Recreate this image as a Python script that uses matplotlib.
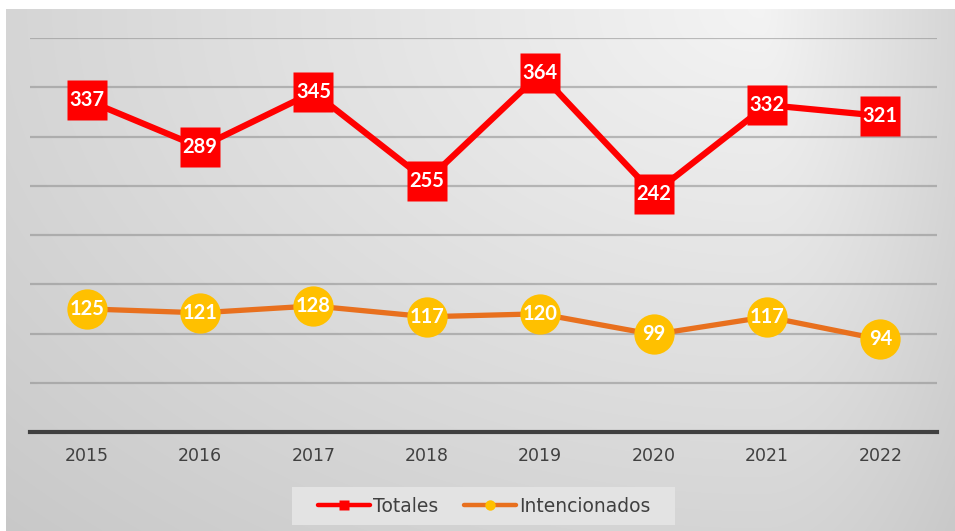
import matplotlib.pyplot as plt
from matplotlib.lines import Line2D
from matplotlib.patches import Rectangle
import numpy as np

plt.rcParams['font.family'] = ['DejaVu Sans']

years = ['2015', '2016', '2017', '2018', '2019', '2020', '2021', '2022']
totales = [337, 289, 345, 255, 364, 242, 332, 321]
intencionados = [125, 121, 128, 117, 120, 99, 117, 94]

W, H = 955, 531
fig = plt.figure(figsize=(W / 100, H / 100), dpi=100, facecolor='white')

# fondo con degradado gris
bg = fig.add_axes([6 / W, 0, (W - 6) / W, (H - 9) / H])
bg.set_axis_off()
xx, yy = np.meshgrid(np.arange(6, W), np.arange(9, H))
cx = 760
dx = np.where(xx < cx, (xx - cx) / 760, (xx - cx) / 200)
dy = (yy - 9) / 520
d = np.sqrt(dx ** 2 + dy ** 2)
v = np.clip(0.955 - 0.12 * d, 0.77, 1)
bg.imshow(np.dstack([v, v, v]), aspect='auto', extent=[0, 1, 0, 1])

ax = fig.add_axes([30 / W, (H - 432) / H, 907 / W, 394 / H])
ax.set_facecolor('none')
x = np.arange(len(years))

for g in range(50, 401, 50):
    ax.axhline(g, color='#8c8c8c', lw=1.6, alpha=0.55, zorder=1)
ax.axhline(0, color='#404040', lw=3, zorder=2, clip_on=False)

ax.plot(x, totales, color='#ff0000', lw=4.5, marker='s', ms=29,
        mec='none', zorder=3)
ax.plot(x, intencionados, color='#e8701e', lw=3.8, marker='o', ms=29,
        mfc='#ffc000', mec='none', zorder=3)

for xi, t, i in zip(x, totales, intencionados):
    for val in (t, i):
        ax.text(xi, val, str(val), color='white', fontsize=14.5,
                fontweight='bold', family='Lato',
                ha='center', va='center', zorder=4)

ax.set_xlim(-0.5, 7.5)
ax.set_ylim(0, 400)
ax.set_xticks(x)
ax.set_xticklabels(years, fontsize=12.5, color='#404040')
ax.set_yticks([])
ax.tick_params(axis='x', length=0, pad=11)
for s in ax.spines.values():
    s.set_visible(False)

# caja de la leyenda
fig.patches.append(Rectangle((292 / W, (H - 525) / H), 383 / W, 38 / H,
                             transform=fig.transFigure, facecolor='#e3e3e3',
                             edgecolor='none', zorder=1))

handles = [
    Line2D([], [], color='#ff0000', lw=3.2, marker='s', ms=7.5, mec='none',
           solid_capstyle='round'),
    Line2D([], [], color='#e8701e', lw=3.2, marker='o', ms=7.5,
           mfc='#ffc000', mec='none', solid_capstyle='round'),
]
leg = fig.legend(handles, ['Totales', 'Intencionados'], loc='center',
                 bbox_to_anchor=(484 / W, 1 - 506 / H),
                 ncol=2, fontsize=13.5, frameon=False,
                 handlelength=2.77, columnspacing=1.4,
                 handletextpad=0.16, borderpad=0.2, borderaxespad=0)
for t in leg.get_texts():
    t.set_color('#404040')

fig.savefig('out.png', dpi=100, facecolor='white')
